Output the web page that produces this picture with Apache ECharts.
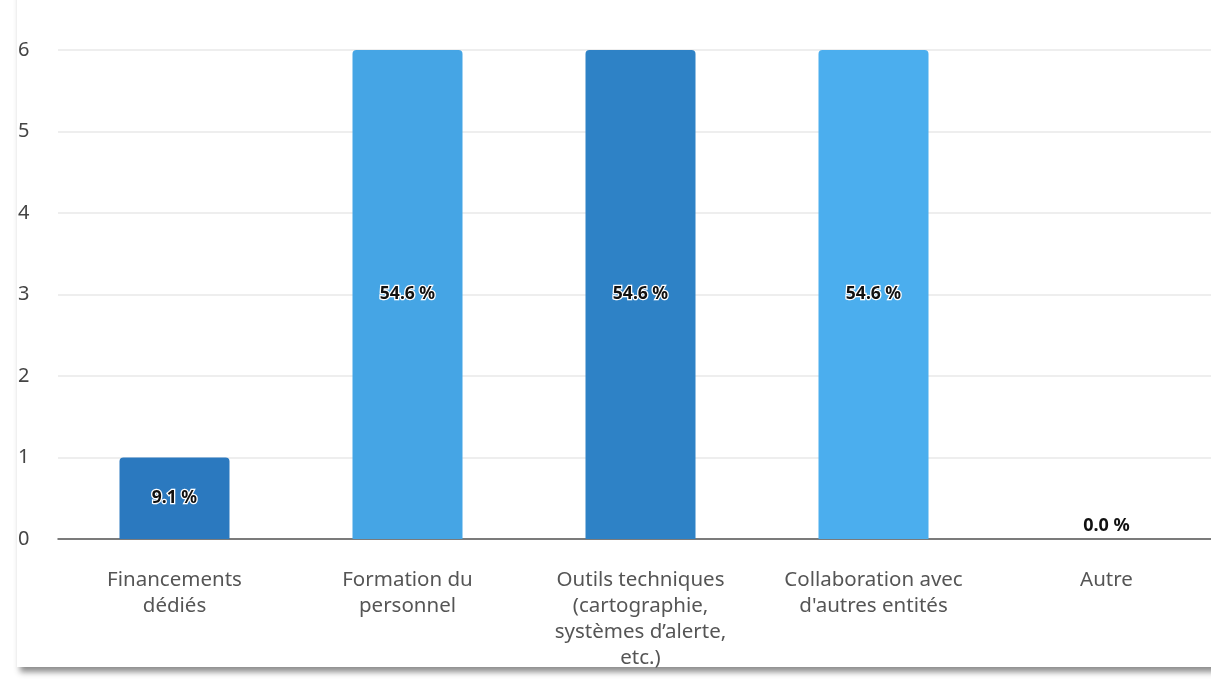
<!DOCTYPE html>
<html>
<head>
<meta charset="utf-8">
<script src="https://cdn.jsdelivr.net/npm/echarts@6/dist/echarts.min.js"></script>
<style>
html,body{margin:0;padding:0;background:#fff;width:1211px;height:684px;overflow:hidden;}
#card{position:absolute;left:17px;top:-20px;width:1230px;height:687px;background:#fff;box-shadow:3px 5px 6px rgba(0,0,0,0.45);}
#chart{position:absolute;left:0;top:0;width:1240px;height:684px;}
</style>
</head>
<body>
<div id="card"></div>
<div id="chart"></div>
<script>
const categories = ["Financements\ndédiés", "Formation du\npersonnel", "Outils techniques\n(cartographie,\nsystèmes d’alerte,\netc.)", "Collaboration avec\nd'autres entités", "Autre"];
const counts = [1, 6, 6, 6, 0];
const percentLabels = ["9.1 %", "54.6 %", "54.6 %", "54.6 %", "0.0 %"];
const barColors = ["#2b79bf", "#45a5e5", "#2e82c6", "#4baeee", "#45a5e5"];
const yTicks = [0, 1, 2, 3, 4, 5, 6];

const chart = echarts.init(document.getElementById('chart'), null, {renderer: 'canvas'});
chart.setOption({
  animation: false,
  grid: {left: 58, top: 50, width: 1165, height: 489, containLabel: false},
  xAxis: {
    type: 'category',
    data: categories,
    axisLine: {lineStyle: {color: '#555', width: 1.5}},
    axisTick: {show: false},
    axisLabel: {
      interval: 0, margin: 28, color: '#555', fontFamily: 'Noto Sans', fontSize: 20.5, lineHeight: 26
    }
  },
  yAxis: {
    type: 'value', min: yTicks[0], max: yTicks[yTicks.length - 1], interval: 1,
    axisLine: {show: false}, axisTick: {show: false},
    splitLine: {lineStyle: {color: '#e8e8e8', width: 1.5}},
    axisLabel: {color: '#444', fontFamily: 'Noto Sans', fontSize: 20, margin: 28, align: 'left', padding: [0,0,0,-12]}
  },
  series: [{
    type: 'bar',
    barWidth: 110,
    data: counts.map((v, i) => ({
      value: v,
      itemStyle: {color: barColors[i], borderRadius: [4, 4, 0, 0]},
      label: v === 0 ? {
        show: true, position: 'top', distance: 4, formatter: percentLabels[i],
        color: '#111', fontWeight: 'bold', fontFamily: 'Noto Sans', fontSize: 18, textBorderWidth: 0
      } : {
        show: true, position: 'inside', formatter: percentLabels[i]
      }
    })),
    label: {
      show: true, color: '#111', fontWeight: 'bold', fontFamily: 'Noto Sans', fontSize: 17.5,
      textBorderColor: '#fff', textBorderWidth: 2.5
    }
  }]
});
// big bar labels sit at value 3 (chart mid-height), as in the reference
const y3 = chart.convertToPixel({yAxisIndex: 0}, 3);
const y0 = chart.convertToPixel({yAxisIndex: 0}, 0);
const opt = chart.getOption();
const data = counts.map((v, i) => {
  const d = opt.series[0].data[i];
  if (v >= 3) {
    const top = chart.convertToPixel({yAxisIndex: 0}, v);
    d.label = {show: true, position: 'inside', formatter: percentLabels[i], offset: [0, y3 - (top + y0) / 2]};
  }
  return d;
});
chart.setOption({series: [{data: data}]});
</script>
</body>
</html>
